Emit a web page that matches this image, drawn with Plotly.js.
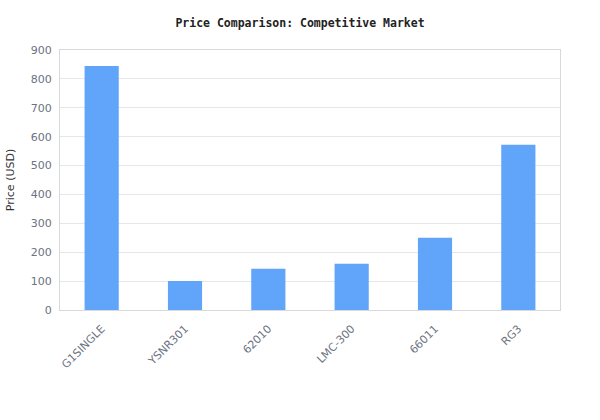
<!DOCTYPE html>
<html>
<head>
<meta charset="utf-8">
<script src="https://cdn.plot.ly/plotly-3.0.1.min.js"></script>
<style>
  body { margin: 0; background: #fff; }
  #chart { width: 600px; height: 420px; }
</style>
</head>
<body>
<div id="chart"></div>
<script>
// product models and their prices
var models = ['G1SINGLE', 'YSNR301', '62010', 'LMC-300', '66011', 'RG3'];
var prices = [845, 100, 143, 160, 250, 572];

var yTicks = [0, 100, 200, 300, 400, 500, 600, 700, 800, 900];

var tickFont = { family: '"DejaVu Sans", Verdana, sans-serif', size: 11, color: '#6b7280' };

var priceBars = {
  x: models,
  y: prices,
  type: 'bar',
  marker: { color: '#60a5fa' },
  hoverinfo: 'x+y'
};

var layout = {
  width: 600,
  height: 420,
  margin: { l: 60, r: 40, t: 50, b: 110 },
  paper_bgcolor: '#ffffff',
  plot_bgcolor: '#ffffff',
  bargap: 0.59,
  showlegend: false,
  title: {
    text: 'Price Comparison: Competitive Market',
    font: { family: '"DejaVu Sans Mono", "Liberation Mono", monospace', size: 11.5, color: '#222222', weight: 'bold' },
    x: 0.5,
    xanchor: 'center',
    y: 0.946,
    yanchor: 'middle'
  },
  xaxis: {
    type: 'category',
    tickangle: -45,
    tickfont: tickFont,
    ticklabelstandoff: 7,
    showline: true,
    linecolor: '#d9d9d9',
    linewidth: 1,
    mirror: true,
    ticks: '',
    showgrid: false
  },
  yaxis: {
    title: { text: 'Price (USD)', font: { family: '"DejaVu Sans", Verdana, sans-serif', size: 11, color: '#333333' }, standoff: 13 },
    range: [0, 900],
    tickvals: yTicks,
    tickfont: tickFont,
    ticklabelstandoff: 5,
    gridcolor: '#e5e7eb',
    showline: true,
    linecolor: '#d9d9d9',
    linewidth: 1,
    mirror: true,
    ticks: '',
    zeroline: false
  }
};

Plotly.newPlot('chart', [priceBars], layout, { displayModeBar: false, staticPlot: true });
</script>
</body>
</html>
